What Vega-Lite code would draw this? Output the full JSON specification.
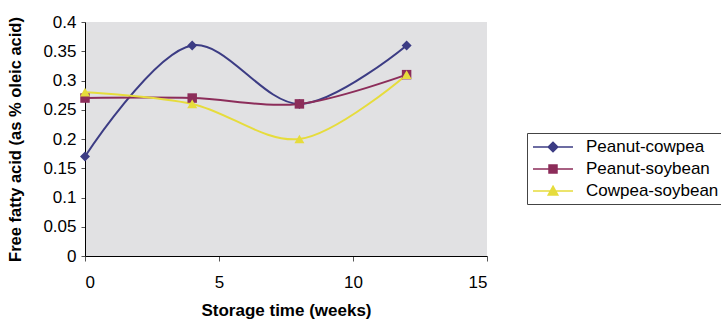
{
  "$schema": "https://vega.github.io/schema/vega-lite/v6.json",
  "width": 402,
  "height": 234,
  "autosize": {"type": "none"},
  "padding": {"left": 85, "top": 22, "right": 234, "bottom": 73},
  "background": "white",
  "config": {
    "font": "Liberation Sans",
    "view": {"stroke": null, "fill": "#e1e1e3"}
  },
  "data": {
    "values": [
      {"week": 0, "ffa": 0.17, "blend": "Peanut-cowpea"},
      {"week": 4, "ffa": 0.36, "blend": "Peanut-cowpea"},
      {"week": 8, "ffa": 0.26, "blend": "Peanut-cowpea"},
      {"week": 12, "ffa": 0.36, "blend": "Peanut-cowpea"},
      {"week": 0, "ffa": 0.27, "blend": "Peanut-soybean"},
      {"week": 4, "ffa": 0.27, "blend": "Peanut-soybean"},
      {"week": 8, "ffa": 0.26, "blend": "Peanut-soybean"},
      {"week": 12, "ffa": 0.31, "blend": "Peanut-soybean"},
      {"week": 0, "ffa": 0.28, "blend": "Cowpea-soybean"},
      {"week": 4, "ffa": 0.26, "blend": "Cowpea-soybean"},
      {"week": 8, "ffa": 0.20, "blend": "Cowpea-soybean"},
      {"week": 12, "ffa": 0.31, "blend": "Cowpea-soybean"}
    ]
  },
  "encoding": {
    "x": {
      "field": "week", "type": "quantitative",
      "scale": {"domain": [0, 15], "nice": false},
      "axis": {
        "title": "Storage time (weeks)", "values": [0, 5, 10, 15], "grid": false,
        "domainColor": "black", "tickColor": "#555", "tickSize": 5,
        "labelFontSize": 17, "labelColor": "black", "labelPadding": 13,
        "titleFontSize": 17, "titleFontWeight": "bold", "titleColor": "black", "titlePadding": 12
      }
    },
    "y": {
      "field": "ffa", "type": "quantitative",
      "scale": {"domain": [0, 0.4], "nice": false},
      "axis": {
        "title": "Free fatty acid (as % oleic acid)", "values": [0, 0.05, 0.1, 0.15, 0.2, 0.25, 0.3, 0.35, 0.4], "grid": false,
        "format": ".2~f",
        "domainColor": "black", "tickColor": "#555", "tickSize": 4,
        "labelFontSize": 17, "labelColor": "black", "labelPadding": 5,
        "titleFontSize": 16.5, "titleFontWeight": "bold", "titleColor": "black",
        "titleX": -70, "titleY": 117, "titleAlign": "center", "titleBaseline": "middle", "titleAngle": -90
      }
    },
    "color": {
      "field": "blend", "type": "nominal",
      "sort": ["Peanut-cowpea", "Peanut-soybean", "Cowpea-soybean"],
      "scale": {"domain": ["Peanut-cowpea", "Peanut-soybean", "Cowpea-soybean"], "range": ["#3c3c84", "#8c2d5a", "#e6dc3c"]},
      "legend": {
        "title": null, "orient": "none", "legendX": 442, "legendY": 111,
        "strokeColor": "#444", "fillColor": "white", "padding": 5,
        "labelFontSize": 17, "labelColor": "black", "labelOffset": 24,
        "symbolSize": 256, "symbolOffset": 12, "rowPadding": 5,
        "encode": {
          "symbols": {
            "update": {
              "shape": {"signal": "datum.value === 'Peanut-cowpea' ? 'M-2.5,0H2.5M0,-0.6L0.6,0L0,0.6L-0.6,0Z' : datum.value === 'Peanut-soybean' ? 'M-2.5,0H2.5M-0.5,-0.5H0.5V0.5H-0.5Z' : 'M-2.5,0H2.5M0,-0.6L0.6,0.5H-0.6Z'"},
              "size": {"value": 256},
              "fill": {"scale": "color", "field": "value"},
              "stroke": {"scale": "color", "field": "value"},
              "strokeWidth": {"value": 1.5},
              "opacity": {"value": 1}
            }
          }
        }
      }
    }
  },
  "layer": [
    {
      "mark": {"type": "line", "interpolate": "catmull-rom", "strokeWidth": 2}
    },
    {
      "transform": [{"filter": "datum.blend === 'Peanut-cowpea'"}],
      "mark": {"type": "point", "filled": true, "opacity": 1, "size": 100, "shape": "diamond"}
    },
    {
      "transform": [{"filter": "datum.blend === 'Peanut-soybean'"}],
      "mark": {"type": "point", "filled": true, "opacity": 1, "size": 90, "shape": "square"}
    },
    {
      "transform": [{"filter": "datum.blend === 'Cowpea-soybean'"}],
      "mark": {"type": "point", "filled": true, "opacity": 1, "size": 100, "shape": "triangle-up"}
    }
  ]
}
